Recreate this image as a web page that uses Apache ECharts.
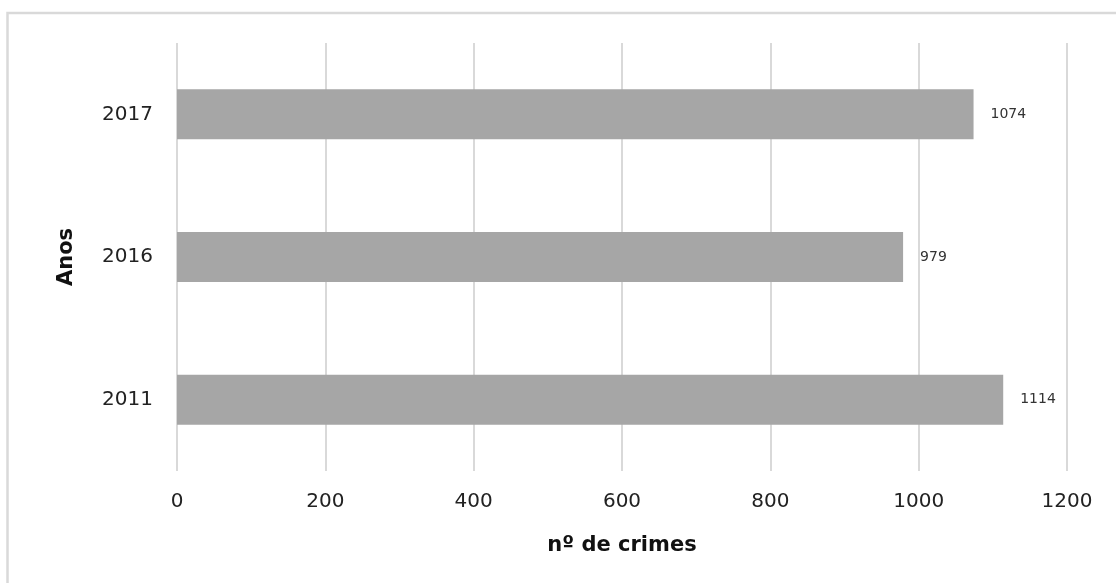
<!DOCTYPE html>
<html>
<head>
<meta charset="utf-8">
<script src="https://cdn.jsdelivr.net/npm/echarts@6/dist/echarts.min.js"></script>
<style>
  html, body { margin: 0; padding: 0; background: #fff; }
  #main { width: 1116px; height: 583px; }
</style>
</head>
<body>
<div id="main"></div>
<script>
// dados do gráfico
const anos = ['2011', '2016', '2017'];
const crimes = [1114, 979, 1074];
const xTicks = [0, 200, 400, 600, 800, 1000, 1200];

const chart = echarts.init(document.getElementById('main'), null, { renderer: 'canvas' });

const font = '"DejaVu Sans", "Open Sans", sans-serif';

const option = {
    animation: false,
    backgroundColor: '#fff',
    grid: {
        left: 177,
        right: 49,
        top: 43,
        bottom: 112,
        containLabel: false,
        outerBoundsMode: 'none'
    },
    xAxis: {
        type: 'value',
        min: xTicks[0],
        max: xTicks[xTicks.length - 1],
        interval: 200,
        axisLine: { show: false },
        axisTick: { show: false },
        splitLine: { lineStyle: { color: '#d9d9d9', width: 2 } },
        axisLabel: {
            color: '#222',
            fontSize: 20,
            fontFamily: font,
            margin: 21,
            formatter: v => String(v)
        },
        name: 'nº de crimes',
        nameLocation: 'middle',
        nameGap: 64,
        nameTextStyle: {
            color: '#111',
            fontSize: 21,
            fontWeight: 'bold',
            fontFamily: font
        }
    },
    yAxis: {
        type: 'category',
        data: anos,
        axisLine: { show: false },
        axisTick: { show: false },
        axisLabel: {
            color: '#222',
            fontSize: 20,
            fontFamily: font,
            margin: 24
        },
        name: 'Anos',
        nameLocation: 'middle',
        nameGap: 100,
        nameRotate: 90,
        nameTextStyle: {
            color: '#111',
            fontSize: 21,
            fontWeight: 'bold',
            fontFamily: font
        }
    },
    series: [{
        type: 'bar',
        data: crimes,
        barWidth: 50,
        itemStyle: { color: '#a6a6a6' },
        label: {
            show: true,
            position: 'right',
            distance: 17,
            color: '#333',
            fontSize: 14,
            fontFamily: font
        }
    }],
    graphic: [{
        type: 'rect',
        shape: { x: 7.5, y: 13, width: 1200, height: 700 },
        style: { fill: 'none', stroke: '#d9d9d9', lineWidth: 2.5 },
        silent: true
    }]
};

chart.setOption(option);
</script>
</body>
</html>
